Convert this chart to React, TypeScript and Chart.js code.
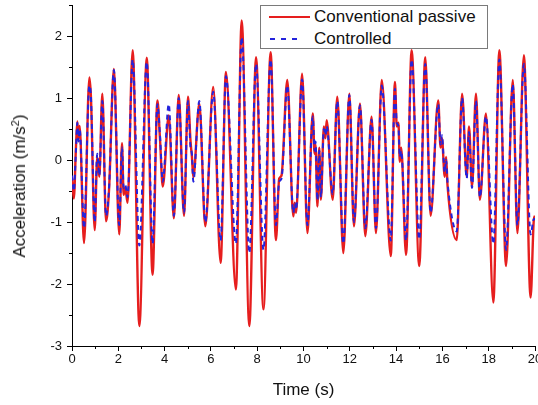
import React, { useEffect, useRef } from "react";
import { Chart, registerables } from "chart.js";

Chart.register(...registerables);

const timeS = [
  0.0, 0.08, 0.17, 0.23, 0.28, 0.33, 0.52, 0.75, 0.82, 0.98, 1.09, 1.18, 1.31, 1.47, 1.6, 1.81, 2.04, 2.16, 2.23, 2.3,
  2.4, 2.62, 2.91, 3.23, 3.48, 3.69, 3.8, 3.92, 4.18, 4.4, 4.61, 4.84, 5.01, 5.12, 5.18, 5.24, 5.5, 5.76, 6.1, 6.42,
  6.65, 7.08, 7.33, 7.66, 7.95, 8.27, 8.58, 8.81, 8.95, 9.05, 9.3, 9.56, 9.62, 9.68, 9.94, 10.17, 10.4, 10.48, 10.52, 10.6,
  10.68, 10.75, 10.88, 10.95, 11.0, 11.26, 11.46, 11.72, 11.98, 12.18, 12.44, 12.67, 12.94, 13.13, 13.38, 13.77, 13.95, 14.03, 14.1, 14.16,
  14.22, 14.43, 14.67, 15.0, 15.26, 15.49, 15.82, 15.92, 15.98, 16.1, 16.16, 16.22, 16.62, 16.85, 17.05, 17.15, 17.28, 17.45, 17.62, 17.88,
  18.2, 18.46, 18.75, 19.04, 19.24, 19.52, 19.81, 19.95, 20.0,
];

const passiveAcc = [
  -0.3, -0.62, 0.2, 0.62, 0.35, 0.55, -1.34, 1.33, 1.0, -1.13, 0.05, -0.27, 1.07, -0.99, -0.48, 1.47, -1.2, 0.27, -0.56, -0.45,
  -0.69, 1.77, -2.68, 1.65, -1.85, 0.96, 0.35, -0.43, 0.72, -0.94, 1.05, -0.9, 1.02, 0.3, 0.05, -0.28, 0.91, -1.07, 1.18, -1.66,
  1.42, -2.09, 2.25, -2.68, 1.66, -2.41, 1.74, -1.29, -0.3, -0.25, 1.29, -0.91, -0.69, -0.85, 1.39, -1.18, 0.75, 0.1, 0.25, -0.75,
  0.2, -0.64, 0.54, 0.35, 0.64, -0.64, 1.02, -1.5, 1.07, -1.07, 0.91, -1.23, 0.7, -1.18, 1.29, -1.55, 1.26, 0.54, 0.6, -0.03,
  0.2, -1.53, 1.77, -1.71, 1.66, -0.9, 0.96, 0.2, 0.35, -0.27, 0.05, -0.4, -1.29, 1.07, -0.27, 0.54, -0.43, 1.07, -0.64, 0.75,
  -2.3, 1.77, -1.71, 1.29, -1.18, 1.69, -2.22, -0.96, -0.9,
];

const controlledAcc = [
  -0.25, -0.5, 0.15, 0.6, 0.3, 0.5, -1.1, 1.2, 1.0, -1.0, 0.1, -0.25, 0.95, -0.9, -0.45, 1.45, -1.05, 0.2, -0.45, -0.4,
  -0.6, 1.62, -1.38, 1.58, -1.35, 0.9, 0.4, -0.35, 0.9, -0.9, 1.0, -0.85, 0.95, 0.2, 0.1, -0.35, 0.95, -1.0, 1.1, -1.3,
  1.35, -1.35, 1.98, -1.5, 1.55, -1.45, 1.62, -1.05, -0.35, -0.3, 1.2, -0.85, -0.7, -0.8, 1.3, -1.05, 0.7, 0.15, 0.3, -0.65,
  0.15, -0.6, 0.5, 0.4, 0.55, -0.55, 0.95, -1.35, 1.05, -1.0, 0.88, -1.1, 0.65, -1.1, 1.2, -1.3, 1.15, 0.6, 0.55, 0.05,
  0.15, -1.3, 1.62, -1.28, 1.55, -0.85, 0.9, 0.25, 0.4, -0.2, 0.0, -0.35, -1.15, 1.0, -0.3, 0.45, -0.45, 0.95, -0.6, 0.7,
  -1.35, 1.62, -1.45, 1.22, -1.05, 1.55, -1.2, -0.95, -0.95,
];

const xMinorTicks = [1, 3, 5, 7, 9, 11, 13, 15, 17, 19];
const yMinorTicks = [-2.5, -1.5, -0.5, 0.5, 1.5, 2.5];

const RED = "#e61e1e";
const BLUE = "#2323dc";
const FONT = "'Liberation Sans', Arial, Helvetica, sans-serif";

const minorTicksPlugin = {
  id: "minorTicks",
  afterDraw(chart: any) {
    const { ctx, chartArea } = chart;
    const x = chart.scales.x;
    const y = chart.scales.y;
    ctx.save();
    ctx.strokeStyle = "#000";
    ctx.lineWidth = 1;
    ctx.beginPath();
    for (const v of xMinorTicks) {
      const px = Math.round(x.getPixelForValue(v)) + 0.5;
      ctx.moveTo(px, chartArea.bottom);
      ctx.lineTo(px, chartArea.bottom + 3);
    }
    for (const v of yMinorTicks) {
      const py = Math.round(y.getPixelForValue(v)) + 0.5;
      ctx.moveTo(chartArea.left, py);
      ctx.lineTo(chartArea.left - 3, py);
    }
    ctx.stroke();
    ctx.restore();
  },
};

export default function App() {
  const canvasRef = useRef<HTMLCanvasElement | null>(null);

  useEffect(() => {
    document.body.style.margin = "0";
    const canvas = canvasRef.current;
    if (!canvas) return;
    Chart.defaults.font.family = FONT;
    const chart = new Chart(canvas, {
      type: "line",
      data: {
        datasets: [
          {
            label: "Controlled",
            data: timeS.map((t, i) => ({ x: t, y: controlledAcc[i] })),
            borderColor: BLUE,
            borderWidth: 2,
            borderDash: [5, 4],
            pointRadius: 0,
            cubicInterpolationMode: "monotone",
            fill: false,
            order: 1,
          },
          {
            label: "Conventional passive",
            data: timeS.map((t, i) => ({ x: t, y: passiveAcc[i] })),
            borderColor: RED,
            borderWidth: 2.4,
            pointRadius: 0,
            cubicInterpolationMode: "monotone",
            fill: false,
            order: 2,
          },
        ],
      },
      options: {
        animation: false,
        responsive: false,
        devicePixelRatio: 1,
        layout: { padding: { top: 5, right: 3, bottom: 0, left: 0 } },
        plugins: { legend: { display: false }, tooltip: { enabled: false } },
        scales: {
          x: {
            type: "linear",
            min: 0,
            max: 20,
            ticks: { stepSize: 2, color: "#111", font: { size: 13 }, padding: 1, maxRotation: 0, autoSkip: false },
            grid: { drawOnChartArea: false, drawTicks: true, tickLength: 5, tickColor: "#000" },
            border: { display: true, color: "#000", width: 1 },
            title: { display: true, text: "Time (s)", color: "#111", font: { size: 17 }, padding: { top: 0, bottom: 4 } },
            afterFit(s: any) {
              s.height = 59;
              s.paddingLeft = 0;
              s.paddingRight = 0;
            },
          },
          y: {
            type: "linear",
            min: -3,
            max: 2.5,
            ticks: { stepSize: 1, color: "#111", font: { size: 13 }, padding: 5 },
            grid: { drawOnChartArea: false, drawTicks: true, tickLength: 5, tickColor: "#000" },
            border: { display: true, color: "#000", width: 1 },
            afterBuildTicks(s: any) {
              s.ticks = s.ticks.filter((t: any) => Number.isInteger(t.value));
            },
            afterFit(s: any) {
              s.width = 72;
              s.paddingTop = 0;
              s.paddingBottom = 0;
            },
          },
        },
      } as any,
      plugins: [minorTicksPlugin],
    });
    return () => chart.destroy();
  }, []);

  return (
    <div style={{ position: "absolute", left: 0, top: 0, width: 538, height: 405, background: "#fff", fontFamily: FONT, overflow: "hidden" }}>
      <canvas ref={canvasRef} width={538} height={405} style={{ display: "block" }} />
      <div
        style={{
          position: "absolute",
          left: 20,
          top: 186,
          transform: "translate(-50%, -50%) rotate(-90deg)",
          whiteSpace: "nowrap",
          fontSize: 17,
          lineHeight: "20px",
          color: "#111",
        }}
      >
        Acceleration (m/s<sup style={{ fontSize: 11, verticalAlign: "6px", lineHeight: 0 }}>2</sup>)
      </div>
      <div
        style={{
          position: "absolute",
          left: 260,
          top: 5,
          width: 226,
          height: 42,
          border: "1px solid #7a7a7a",
          background: "#fff",
          color: "#111",
          fontSize: 17,
        }}
      >
        <div style={{ position: "absolute", left: 8, top: 9.5, width: 41, height: 2, background: RED }} />
        <div
          style={{
            position: "absolute",
            left: 9,
            top: 31.5,
            width: 28,
            height: 2,
            background: `repeating-linear-gradient(to right, ${BLUE} 0px, ${BLUE} 5px, transparent 5px, transparent 11px)`,
          }}
        />
        <div style={{ position: "absolute", left: 53, top: 0, lineHeight: "21px", whiteSpace: "nowrap" }}>Conventional passive</div>
        <div style={{ position: "absolute", left: 53, top: 22, lineHeight: "21px", whiteSpace: "nowrap" }}>Controlled</div>
      </div>
    </div>
  );
}
